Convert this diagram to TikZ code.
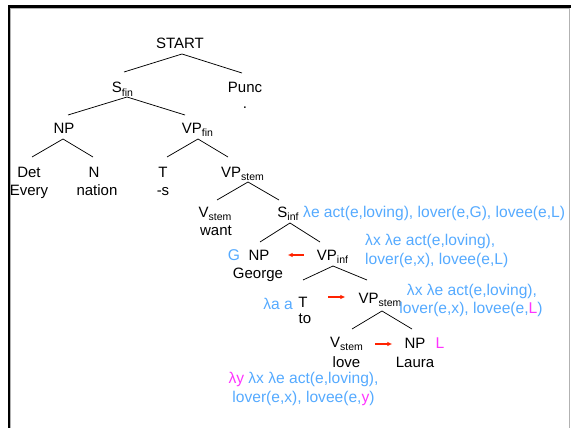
\documentclass[tikz,border=0pt]{standalone}
\usepackage{fontspec}
\setmainfont{Liberation Sans}
\usetikzlibrary{calc,arrows.meta}
\definecolor{semblue}{RGB}{85,170,255}
\definecolor{hilite}{RGB}{255,51,255}
\definecolor{arrred}{RGB}{255,34,0}
% lowered small feature tag after a category label
\newcommand\sbs[1]{\raisebox{-3.5pt}{\fontsize{10.5}{12}\selectfont #1}}
\newcommand\hl[1]{\textcolor{hilite}{#1}}
\begin{document}
\begin{tikzpicture}[x=1pt,y=-1pt,
  every node/.style={inner sep=0pt, font=\fontsize{15}{19}\selectfont, anchor=base},
  sem/.style={text=semblue, font=\fontsize{15.6}{19}\selectfont},
  branch/.style={draw=black, line width=0.75pt},
  shiftarrow/.style={draw=arrred, line width=1.3pt, -{Latex[length=5pt,width=4.5pt]}}]
\useasboundingbox (0,0) rectangle (571,428);

% slide frame
\fill[black] (7.5,5) rectangle (571,8);
\fill[black] (7.5,5) rectangle (10,428);
\draw[black!30, line width=0.7pt] (10.5,428) -- (10.5,8.5) -- (569.8,8.5) -- (569.8,428);

% categories and words
\node (START) at (180,49) {START};
\node (Sfin) at (122.5,93) {S\sbs{fin}};
\node (Punc) at (245,93) {Punc};
\node (dot) at (245,109) {.};
\node (NPa) at (64,133) {NP};
\node (VPfin) at (197.5,133) {VP\sbs{fin}};
\node (Det) at (29,177) {Det};
\node (Every) at (29,195) {Every};
\node (N) at (94,177) {N};
\node (nation) at (97,195) {nation};
\node (Ta) at (163,177) {T};
\node (s) at (163,195) {-s};
\node (VPstema) at (242.5,177) {VP\sbs{stem}};
\node (Vstema) at (215,217) {V\sbs{stem}};
\node (want) at (216,235) {want};
\node (Sinf) at (288,217) {S\sbs{inf}};
\node (NPb) at (259,260) {NP};
\node (George) at (258,278) {George};
\node (VPinf) at (332.5,260) {VP\sbs{inf}};
\node (Tb) at (303,307) {T};
\node (to) at (305,323) {to};
\node (VPstemb) at (380,303) {VP\sbs{stem}};
\node (Vstemb) at (346.5,347) {V\sbs{stem}};
\node (love) at (346.5,367) {love};
\node (NPc) at (415,348) {NP};
\node (Laura) at (415,367) {Laura};

% semantic annotations
\node[sem, anchor=base west] (semSinf) at (303,217) {λe act(e,loving), lover(e,G), lovee(e,L)};
\node[sem] (semG) at (234,260) {G};
\node[sem, anchor=base west] (semVPinfa) at (365,245) {λx λe act(e,loving),};
\node[sem, anchor=base west] (semVPinfb) at (365,264) {lover(e,x), lovee(e,L)};
\node[sem] (semT) at (278,309) {λa a};
\node[sem] (semVPa) at (472,295) {λx λe act(e,loving),};
\node[sem] (semVPb) at (471,313) {lover(e,x), lovee(e,\hl{L})};
\node[sem, text=hilite] (semL) at (440,348) {L};
\node[sem] (semVa) at (303.5,383) {\hl{λy} λx λe act(e,loving),};
\node[sem] (semVb) at (303.5,402) {lover(e,x), lovee(e,\hl{y})};

% tree branches
\draw[branch] ($(START.base)+(2,5)$) -- ($(Sfin.base)+(1.5,-21)$);
\draw[branch] ($(START.base)+(2,5)$) -- ($(Punc.base)+(-3,-20)$);
\draw[branch] ($(Sfin.base)+(4.5,4)$) -- ($(NPa.base)+(4,-18)$);
\draw[branch] ($(Sfin.base)+(4.5,4)$) -- ($(VPfin.base)+(-12.5,-18)$);
\draw[branch] ($(NPa.base)+(-1,6)$) -- ($(Det.base)+(3,-20)$);
\draw[branch] ($(NPa.base)+(-1,6)$) -- ($(N.base)+(-1,-20)$);
\draw[branch] ($(VPfin.base)+(0.5,6)$) -- ($(Ta.base)+(4,-20)$);
\draw[branch] ($(VPfin.base)+(0.5,6)$) -- ($(VPstema.base)+(-14.5,-20)$);
\draw[branch] ($(VPstema.base)+(5.5,5)$) -- ($(Vstema.base)+(2,-17)$);
\draw[branch] ($(VPstema.base)+(5.5,5)$) -- ($(Sinf.base)+(-9,-17)$);
\draw[branch] ($(Sinf.base)+(2,6)$) -- ($(NPb.base)+(1,-18)$);
\draw[branch] ($(Sinf.base)+(2,6)$) -- ($(VPinf.base)+(-12.5,-18)$);
\draw[branch] ($(VPinf.base)+(0.5,6)$) -- ($(Tb.base)+(0,-27)$);
\draw[branch] ($(VPinf.base)+(0.5,6)$) -- ($(VPstemb.base)+(-13,-23)$);
\draw[branch] ($(VPstemb.base)+(2,8)$) -- ($(Vstemb.base)+(5.5,-18)$);
\draw[branch] ($(VPstemb.base)+(2,8)$) -- ($(NPc.base)+(-3,-19)$);

% direction of application
\draw[shiftarrow] ($(VPinf.base west)+(-13,-5)$) -- ($(NPb.base east)+(18,-5)$);
\draw[shiftarrow] ($(Tb.base east)+(20.5,-10)$) -- ($(VPstemb.base west)+(-13,-6)$);
\draw[shiftarrow] ($(Vstemb.base east)+(12,-3)$) -- ($(NPc.base west)+(-12,-4)$);
\end{tikzpicture}
\end{document}
